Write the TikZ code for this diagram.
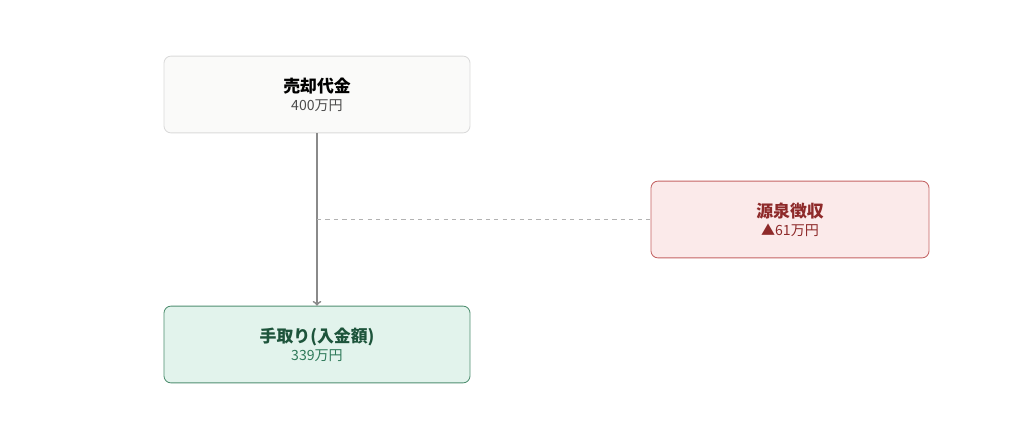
\documentclass[tikz,border=0pt]{standalone}
\usepackage{fontspec}
\setmainfont{Noto Sans CJK JP}
\usetikzlibrary{positioning}
\definecolor{boxgray}{HTML}{FAFAF9}
\definecolor{linegray}{HTML}{DADADA}
\definecolor{boxred}{HTML}{FBEAEA}
\definecolor{linered}{HTML}{C46464}
\definecolor{textred}{HTML}{8E2A2A}
\definecolor{boxgreen}{HTML}{E2F3EC}
\definecolor{linegreen}{HTML}{4F8F70}
\definecolor{textgreen}{HTML}{1D543B}
\definecolor{subgreen}{HTML}{2F7A5A}
\definecolor{arrowgray}{HTML}{8A8A8A}
\tikzset{
  box/.style={rounded corners=5pt,minimum width=7.65cm,minimum height=1.92cm,align=center,line width=.6pt}
}
\newcommand\boxtitle[1]{{\bfseries\fontsize{12}{15}\selectfont #1}}
\newcommand\boxsub[1]{{\fontsize{10}{13}\selectfont #1}}
\begin{document}
\begin{tikzpicture}[x=.025cm,y=-.025cm]
\useasboundingbox(0,0)rectangle(1024,445);
\node[box,fill=boxgray,draw=linegray](sale)at(317,94.5){\boxtitle{売却代金}\\[1pt]{\color{black!70}\boxsub{400万円}}};
\node[box,fill=boxgreen,draw=linegreen](net)at(317,344.5){{\color{textgreen}\boxtitle{手取り(入金額)}}\\[1pt]{\color{subgreen}\boxsub{339万円}}};
\node[box,minimum width=6.95cm,fill=boxred,draw=linered](tax)at(790,219.5){{\color{textred}\boxtitle{源泉徴収}}\\[1pt]{\color{textred}\boxsub{▲61万円}}};
\draw[arrowgray,line width=1.2pt,->](sale)--(net);
\coordinate(tap)at(317,219.5);
\draw[black!30,dashed,line width=.6pt](tap)--(tax.west);
\end{tikzpicture}
\end{document}
